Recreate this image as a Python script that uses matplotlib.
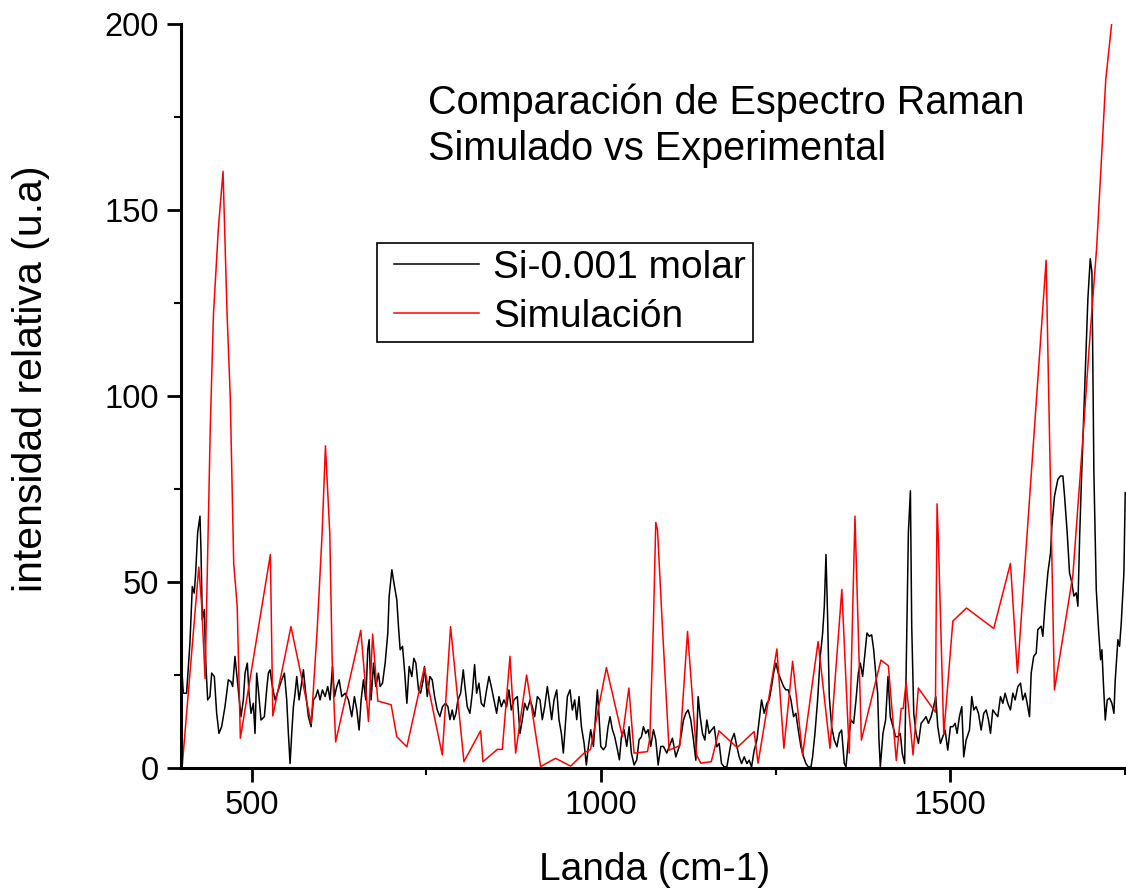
import matplotlib
matplotlib.use("Agg")
import matplotlib.pyplot as plt
from matplotlib.ticker import MultipleLocator
from matplotlib.lines import Line2D
from matplotlib.legend_handler import HandlerLine2D

plt.rcParams['font.family'] = ['Liberation Sans', 'DejaVu Sans']

# Espectro experimental (Si-0.001 molar)
black_x = [399.4, 401.8, 406.5, 411.3, 414.7, 417.5, 419.5, 422.3, 425.7, 427.1, 429.0, 431.9, 433.8, 436.7,
           440.0, 442.4, 446.2, 449.6, 452.9, 456.7, 461.5, 466.3, 470.1, 472.5, 475.8, 478.2, 481.6, 484.4,
           487.8, 490.2, 493.5, 495.9, 498.8, 502.1, 504.5, 506.9, 509.3, 513.1, 517.9, 521.2, 523.6, 526.0,
           529.4, 533.2, 538.0, 542.8, 546.6, 549.9, 552.3, 554.7, 557.1, 559.5, 561.9, 564.3, 567.6, 570.5,
           573.8, 577.1, 581.0, 584.8, 588.1, 591.5, 594.4, 597.7, 601.0, 604.9, 608.7, 612.0, 615.4, 618.3,
           621.6, 625.0, 628.8, 633.6, 638.3, 643.1, 646.9, 650.3, 653.6, 656.5, 659.8, 663.2, 666.0, 668.0,
           670.8, 674.2, 677.5, 681.3, 683.7, 687.1, 690.9, 694.7, 696.6, 700.5, 704.3, 707.6, 710.0, 712.4,
           715.8, 718.6, 722.0, 725.3, 729.1, 732.0, 734.9, 738.7,
           741.6, 745.4, 747.3, 751.2, 755.0, 758.3, 761.7, 765.5, 769.3, 773.1, 777.4, 780.8, 783.7, 787.0,
           789.4, 792.3, 795.1, 799.0, 802.8, 805.2, 808.5, 812.3, 815.7, 819.0, 821.9, 825.2, 828.6, 832.4,
           836.2, 839.6, 842.9, 846.7, 850.6, 853.9, 857.3, 861.1, 864.9, 868.2, 871.6, 875.4, 880.2, 884.0,
           887.4, 890.7, 894.5, 898.4, 901.7, 905.0, 908.9, 912.7, 916.0, 919.4, 923.2, 926.5, 929.4, 932.8,
           936.6, 939.9, 943.3, 946.1, 949.5, 951.9, 955.7, 959.0, 962.4, 965.3, 968.6, 972.0, 975.8, 979.1,
           982.0, 985.3, 989.2, 992.5, 994.9, 997.3, 999.7, 1003.5, 1006.8, 1010.2, 1013.0, 1016.4, 1019.7,
           1023.6, 1026.4, 1029.3, 1033.1, 1036.9, 1040.3, 1043.6, 1047.5, 1051.3, 1054.6, 1058.0, 1060.8,
           1064.2, 1067.5, 1071.3, 1075.2, 1078.5, 1081.9, 1085.7, 1089.5, 1094.3,
           1097.6, 1102.4, 1107.2, 1112.0, 1115.3, 1118.2, 1121.5, 1124.9, 1128.7, 1132.5, 1135.9, 1139.2,
           1142.1, 1145.4, 1148.8, 1151.6, 1155.0, 1158.3, 1162.2, 1166.0, 1169.3, 1172.7, 1176.5, 1180.3,
           1183.7, 1187.0, 1190.8, 1194.7, 1198.0, 1201.4, 1205.2, 1209.0, 1212.3, 1215.7, 1219.5, 1223.3,
           1226.7, 1230.0, 1233.8, 1237.7, 1241.0, 1244.4, 1247.2, 1250.6, 1253.9, 1257.7, 1261.6, 1264.9,
           1268.3, 1272.1, 1275.9, 1279.2, 1282.6, 1286.4, 1290.2, 1293.6, 1296.9, 1300.8, 1303.1, 1306.5,
           1310.3, 1314.1, 1317.5, 1319.9, 1322.3, 1324.6, 1327.0, 1330.4, 1334.2, 1338.0, 1341.4, 1344.7,
           1348.5, 1350.9, 1354.3, 1358.1, 1361.9, 1365.3, 1368.6, 1371.5, 1374.8, 1378.2, 1381.0, 1384.4,
           1387.7, 1390.6, 1393.9, 1396.3, 1398.2, 1400.1, 1403.9, 1407.7, 1411.1, 1414.4, 1418.2, 1422.1,
           1425.4, 1428.7, 1431.6, 1435.0,
           1440.3, 1443.2, 1445.1, 1448.0, 1451.3, 1454.7, 1458.5, 1462.3, 1465.6, 1469.0, 1472.8, 1476.6,
           1479.5, 1482.4, 1486.2, 1489.5, 1492.9, 1496.7, 1500.5, 1503.9, 1507.2, 1510.1, 1513.4, 1516.8,
           1519.6, 1523.0, 1527.8, 1531.1, 1534.0, 1537.3, 1540.7, 1544.5, 1548.3, 1551.7, 1555.0, 1557.9,
           1561.2, 1564.6, 1568.4, 1572.2, 1575.6, 1578.9, 1582.7, 1586.5, 1589.9, 1593.2, 1597.1, 1600.9,
           1604.2, 1607.6, 1610.4, 1613.8, 1616.2, 1619.8, 1623.4, 1625.7, 1630.5, 1632.9, 1636.3, 1640.1,
           1643.9, 1645.8, 1649.6, 1654.4, 1658.2, 1661.6, 1664.0, 1667.8, 1671.1, 1674.5, 1677.3, 1680.7,
           1683.1, 1685.5, 1687.9, 1691.7, 1695.0, 1697.4, 1700.8, 1703.2, 1704.6, 1706.0, 1709.4, 1712.7,
           1715.6, 1717.5, 1719.4, 1722.3, 1725.1, 1728.5, 1731.8, 1734.7, 1736.6, 1740.4, 1742.8, 1745.2,
           1749.0, 1750.9]
black_y = [27.3, 20.1, 20.1, 33.6, 48.8, 47.0, 52.4, 63.2, 67.7, 58.7, 39.9, 42.6, 29.0, 18.3,
           19.2, 25.5, 24.6, 14.7, 9.3, 11.1, 16.5, 23.7, 23.2, 21.9, 30.0, 25.5, 19.2, 13.8,
           18.3, 25.5, 28.2, 20.1, 14.7, 17.4, 9.3, 25.5, 21.0, 12.9, 13.8, 21.0, 25.5, 26.4,
           21.9, 18.3, 21.0, 23.7, 25.5, 18.3, 9.3, 1.2, 9.3, 16.5, 20.1, 24.6, 18.3, 21.9,
           26.4, 20.1, 13.8, 11.1, 18.3, 19.2, 21.0, 18.3, 21.0, 19.2, 21.9, 18.3, 27.3, 19.2,
           21.9, 23.7, 19.2, 20.1, 18.3, 13.8, 19.2, 15.6, 10.2, 18.3, 23.7, 18.3, 31.8, 34.5,
           18.3, 28.2, 21.9, 25.5, 21.9, 22.8, 28.2, 36.3, 46.1, 53.3, 48.8, 45.2, 38.0, 31.8,
           32.7, 26.4, 17.4, 27.3, 24.6, 29.5, 28.2, 21.0,
           20.1, 23.7, 27.3, 19.2, 24.6, 23.7, 19.2, 15.6, 13.8, 16.5, 17.4, 16.5, 13.0, 15.6,
           13.0, 14.7, 18.3, 20.1, 26.4, 21.9, 16.5, 14.7, 20.1, 27.8, 20.1, 22.8, 17.4, 16.5,
           21.0, 24.6, 21.9, 18.3, 14.7, 19.2, 16.5, 18.3, 16.5, 21.0, 15.6, 18.3, 19.2, 9.3,
           13.0, 17.4, 15.6, 18.3, 16.5, 13.8, 19.2, 18.3, 13.0, 16.5, 21.9, 17.4, 13.0, 18.3,
           21.0, 13.0, 9.3, 4.0, 13.0, 19.2, 21.0, 15.6, 18.3, 13.0, 19.2, 11.1, 6.7, 0.8,
           5.8, 10.3, 5.8, 14.7, 21.0, 13.8, 5.8, 4.9, 5.8, 11.1, 13.8, 10.3, 8.4,
           4.9, 2.2, 8.4, 10.3, 5.8, 11.1, 4.0, 0.8, 2.2, 7.6, 8.4, 11.1,
           9.3, 10.3, 5.8, 10.3, 7.6, 0.8, 5.8, 5.8, 4.0,
           5.7, 8.0, 3.0, 5.7, 9.3, 12.9, 14.7, 15.6, 12.9, 7.5, 2.1, 19.2,
           13.8, 9.3, 7.5, 12.9, 9.3, 10.2, 11.1, 5.7, 6.6, 1.2, 0.3, 0.3,
           3.9, 7.5, 9.3, 5.7, 3.0, 1.2, 3.0, 1.2, 2.1, 0.3, 4.8, 7.5,
           12.9, 18.3, 14.7, 17.4, 18.3, 21.9, 25.5, 28.2, 25.5, 23.7, 21.9, 21.0,
           21.0, 18.3, 13.8, 14.7, 10.2, 5.7, 3.0, 1.2, 0.3, 0.3, 3.0, 9.3,
           18.3, 30.0, 36.3, 43.4, 57.4, 40.8, 19.2, 11.1, 7.5, 5.7, 9.3, 10.2,
           1.2, 0.3, 7.5, 12.9, 12.0, 18.3, 25.5, 28.2, 24.6, 30.9, 36.3, 35.4,
           35.8, 31.8, 24.6, 20.1, 7.5, 0.3, 9.3, 12.9, 24.6, 13.8, 11.1, 8.4,
           8.4, 9.3, 3.9, 1.2,
           63.2, 74.5, 38.1, 14.7, 9.3, 6.6, 12.0, 12.9, 13.8, 12.0, 13.8, 16.5,
           19.2, 11.1, 6.6, 8.4, 10.2, 4.8, 11.1, 11.1, 12.0, 9.3, 13.8, 16.5,
           3.0, 7.5, 10.2, 19.2, 15.6, 16.5, 14.7, 10.2, 14.7, 15.6, 13.0, 9.3,
           15.6, 14.7, 13.8, 19.2, 17.4, 20.1, 17.4, 15.6, 20.1, 18.3, 21.9, 22.8,
           18.3, 20.1, 17.4, 13.8, 25.5, 30.0, 30.9, 37.2, 38.1, 35.4, 44.4, 52.5,
           57.8, 65.0, 73.1, 77.6, 78.5, 78.5, 73.1, 63.2, 52.5, 49.8, 46.2, 47.1,
           43.5, 61.4, 75.8, 95.6, 113.6, 126.1, 136.9, 133.3, 106.4, 79.4, 48.0, 37.2,
           29.1, 31.8, 23.7, 12.9, 18.3, 18.8, 17.4, 14.7, 23.7, 34.5, 32.7, 39.0,
           52.5, 74.0]

# Espectro simulado
red_x = [400, 424, 428, 433, 440.5, 445, 452, 458.7, 464.4, 469, 474, 479, 483.5, 526.5, 530, 556, 585,
         593.5, 600.6, 605.4, 611.6, 615, 620, 656, 667, 673, 680.4, 699.5, 707.6, 722, 747, 772.7,
         784.6, 803.7, 827.6, 831, 851.5, 858.7, 869.7, 877.8, 893.5, 913.6, 935, 956.6, 975.7, 985,
         1007.8, 1030.7, 1040, 1047.4, 1066.6, 1070, 1075, 1078.5, 1081, 1088, 1097.6, 1113, 1124, 1137,
         1143, 1158, 1169, 1195, 1219.4, 1225, 1252, 1262, 1274.5, 1288.8, 1311, 1328, 1345, 1355.6,
         1363.8, 1373, 1401, 1411.6, 1423, 1430, 1433, 1437, 1447, 1454.6, 1479, 1481.4, 1483.3, 1491,
         1504, 1523.5, 1562.6, 1586.5, 1596.5, 1637.6, 1649.5, 1676, 1690, 1700, 1710, 1723, 1732]
red_y = [0, 54, 44, 24, 92, 122, 145, 160.4, 122.6, 100, 55, 43.5, 8, 57.4, 14, 38, 12,
         37, 63, 86.6, 63, 29, 7, 37, 12.5, 36, 18, 17, 8.4, 5.7, 27, 3.5,
         38, 1.7, 10, 1.7, 5, 5, 30, 4, 25, 0.4, 2.6, 0.5, 4, 5,
         27, 8.4, 21.5, 4, 4.4, 8, 38, 66, 64, 38, 4.8, 6, 36.7, 3.5,
         1.3, 1.7, 10, 5.5, 9.8, 1.3, 32, 5.3, 28.7, 3.5, 34, 5.3, 48, 4,
         67.7, 7.5, 29, 27.5, 2, 16, 16, 23, 3.5, 21.5, 15, 71, 61, 9,
         39.5, 43, 37.5, 55, 25.5, 136.5, 21, 52, 88, 115, 140, 185, 201]

fig = plt.figure(figsize=(11.26, 8.92), dpi=100)
ax = fig.add_axes([181 / 1126, 124 / 892, 945 / 1126, 744 / 892])

ax.plot(black_x, black_y, color='black', lw=1.1, label='Si-0.001 molar')
ax.plot(red_x, red_y, color='red', lw=1.1, label='Simulación')

ax.set_xlim(398.5, 1752)
ax.set_ylim(0, 200)

for side in ['top', 'right']:
    ax.spines[side].set_visible(False)
for side in ['left', 'bottom']:
    ax.spines[side].set_linewidth(2.2)

ax.xaxis.set_major_locator(MultipleLocator(500))
ax.xaxis.set_minor_locator(MultipleLocator(250))
ax.yaxis.set_major_locator(MultipleLocator(50))
ax.yaxis.set_minor_locator(MultipleLocator(25))
ax.tick_params(which='major', direction='out', length=10, width=2, labelsize=23.5, pad=6)
ax.tick_params(which='minor', direction='out', length=5, width=1.5)

fig.text(31 / 1126, 1 - 379 / 892, 'intensidad relativa (u.a)', rotation=90,
         ha='center', va='center', fontsize=29.5)
fig.text(655 / 1126, 1 - 880 / 892, 'Landa (cm-1)', ha='center', va='baseline', fontsize=28)

# titulo dentro del grafico
fig.text(428 / 1126, 1 - 114 / 892, 'Comparación de Espectro Raman', ha='left', va='baseline', fontsize=28.5)
fig.text(428 / 1126, 1 - 160 / 892, 'Simulado vs Experimental', ha='left', va='baseline', fontsize=28.5)

leg = ax.legend(loc='upper left', bbox_to_anchor=(377 / 1126, 1 - 243 / 892),
                bbox_transform=fig.transFigure, fontsize=28, fancybox=False,
                edgecolor='black', handlelength=2.44, handletextpad=0.36,
                borderpad=0.18, labelspacing=0.33, borderaxespad=0,
                handler_map={Line2D: HandlerLine2D(xpad=0.26)})
leg.get_frame().set_linewidth(1.2)
leg.get_frame().set_alpha(1)

fig.savefig('out.png', dpi=100)
